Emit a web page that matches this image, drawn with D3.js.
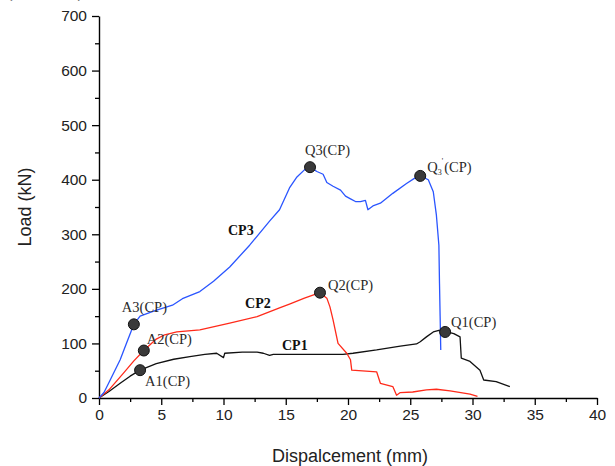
<!DOCTYPE html>
<html>
<head>
<meta charset="utf-8">
<script src="https://cdn.jsdelivr.net/npm/d3@7"></script>
<style>
  body { margin: 0; background: #fff; }
  svg { display: block; }
</style>
</head>
<body>
<svg class="plot"></svg>
<script>
var width = 615, height = 466;

// load-displacement curves [mm, kN]
const cp1 = [[0,0],[0.8,12],[1.7,27],[2.5,40],[3.3,51],[4.6,63],[6.0,71],[7.3,76],[8.5,80],[9.45,82],
  [10.0,74],[10.1,82],[11.5,84],[12.7,84],[13.2,82],[13.7,78],[14.0,80],[15.3,80],[17,80],[19.6,80],
  [20.4,82],[22.3,88],[24.2,95],[25.5,99],[25.8,103],[26.3,112],[26.85,121],[27.3,124],[27.8,122],
  [28.5,118],[29.0,112],[29.1,73],[29.8,67],[30.6,51],[30.9,33],[31.9,30],[33.0,21]];

const cp2 = [[0,0],[0.8,15],[1.95,45],[2.8,68],[3.6,87],[4.6,108],[5.2,115],[6.25,121],[8.1,125],
  [10.5,137],[12.7,149],[14.5,165],[15.3,172],[16.5,183],[17.35,190],[17.75,193],[18.3,183],[18.55,167],
  [18.8,143],[19.2,100],[19.9,82],[20.2,70],[20.3,51],[22.3,48],[22.6,27],[23.6,21],[23.9,5],[24.2,10],
  [25.2,11],[26.3,15],[27.1,16],[28.2,13],[29.8,7],[30.4,3]];

const cp3 = [[0,0],[0.4,10],[0.9,33],[1.7,70],[2.2,100],[2.8,135],[3.3,150],[4.5,160],[5.9,170],
  [6.7,182],[8.1,195],[9.2,214],[10.5,240],[12.1,280],[13.7,324],[14.5,345],[15.3,385],[15.9,405],
  [16.5,418],[16.95,423],[17.5,415],[18.0,410],[18.3,395],[18.8,388],[19.4,381],[19.8,370],[20.2,365],
  [20.6,360],[21,360],[21.4,362],[21.6,345],[22.0,352],[22.6,357],[23.6,375],[24.7,393],[25.3,402],
  [25.8,407],[26.45,400],[26.85,378],[27.1,335],[27.3,280],[27.35,210],[27.4,150],[27.45,88]];

const markers = [[3.3,51],[3.6,87],[2.8,135],[17.75,193],[16.95,423],[25.8,407],[27.8,121]];
const markerLabels = ["A1(CP)","A2(CP)","A3(CP)","Q2(CP)","Q3(CP)","Q3'(CP)","Q1(CP)"];
const curveLabels = [["CP1",14.7,88],["CP2",11.73,165],["CP3",10.36,299]];

const xTicks = [0,5,10,15,20,25,30,35,40];
const yTicks = [0,100,200,300,400,500,600,700];

const svg = d3.select("svg.plot").attr("width", width).attr("height", height);

const x = d3.scaleLinear().domain([0, 40]).range([99, 597]);
const y = d3.scaleLinear().domain([0, 700]).range([398, 16]);

// caption cut off at the top edge, only its lower edge shows
svg.append("text").attr("x", 2).attr("y", -2)
  .style("font-family", "Liberation Sans, Arial, sans-serif").style("font-size", "15px")
  .style("fill", "#777").text("a)   Load-displacement curves");

// minor ticks
svg.append("g").attr("transform", "translate(0,398)")
  .call(d3.axisBottom(x).tickValues(d3.range(2.5, 40, 5)).tickSize(4).tickFormat(""))
  .call(g => g.select(".domain").remove())
  .selectAll("line").attr("stroke-width", 1.3);
svg.append("g").attr("transform", "translate(99,0)")
  .call(d3.axisLeft(y).tickValues(d3.range(50, 700, 100)).tickSize(4).tickFormat(""))
  .call(g => g.select(".domain").remove())
  .selectAll("line").attr("stroke-width", 1.3);

const xAxis = svg.append("g").attr("transform", "translate(0,398)")
  .call(d3.axisBottom(x).tickValues(xTicks).tickSize(7).tickSizeOuter(0).tickPadding(4));
const yAxis = svg.append("g").attr("transform", "translate(99,0)")
  .call(d3.axisLeft(y).tickValues(yTicks).tickSize(7).tickSizeOuter(0).tickPadding(5));

[xAxis, yAxis].forEach(function(a) {
  a.select(".domain").attr("stroke-width", 1.4);
  a.selectAll(".tick line").attr("stroke-width", 1.3);
  a.selectAll(".tick text")
    .style("font-family", "Liberation Sans, Arial, sans-serif")
    .style("font-size", "15.5px")
    .attr("fill", "#222");
});

svg.append("text")
  .attr("x", 350).attr("y", 462)
  .attr("text-anchor", "middle")
  .style("font-family", "Liberation Sans, Arial, sans-serif").style("font-size", "18px")
  .attr("fill", "#222")
  .text("Dispalcement (mm)");

svg.append("text")
  .attr("transform", "translate(31,207) rotate(-90)")
  .attr("text-anchor", "middle")
  .style("font-family", "Liberation Sans, Arial, sans-serif").style("font-size", "18px")
  .attr("fill", "#222")
  .text("Load (kN)");

const line = d3.line().x(d => x(d[0])).y(d => y(d[1]));

const series = [[cp1, "#111111"], [cp2, "#ff2a1a"], [cp3, "#2a55ff"]];
svg.append("g").selectAll("path")
  .data(series)
  .join("path")
    .attr("d", d => line(d[0]))
    .style("fill", "none")
    .style("stroke", d => d[1])
    .style("stroke-width", 1.3)
    .style("stroke-linejoin", "round");

svg.append("g").selectAll("circle")
  .data(markers)
  .join("circle")
    .attr("cx", d => x(d[0]))
    .attr("cy", d => y(d[1]))
    .attr("r", 5.5)
    .style("fill", "#3a3a3a")
    .style("stroke", "#111")
    .style("stroke-width", 1);

// label offsets from each marker, in pixels
const offsets = [[5,16],[3,-7],[-12,-12],[8,-3],[-5,-12],[7,-4],[6,-5]];
const serif = "Liberation Serif, Times New Roman, serif";

const lbl = svg.append("g")
  .style("font-family", serif).style("font-size", "14.5px").attr("fill", "#2a2a2a");

markers.forEach(function(m, i) {
  const t = lbl.append("text")
    .attr("x", x(m[0]) + offsets[i][0])
    .attr("y", y(m[1]) + offsets[i][1]);
  const s = markerLabels[i];
  if (s === "Q3'(CP)") {
    t.append("tspan").text("Q");
    t.append("tspan").attr("dy", 3).style("font-size", "8px").text("3");
    t.append("tspan").attr("dy", -11).style("font-size", "8px").text("'");
    t.append("tspan").attr("dx", 1).attr("dy", 8).text("(CP)");
  } else {
    t.text(s);
  }
});

svg.append("g").selectAll("text")
  .data(curveLabels)
  .join("text")
    .attr("x", d => x(d[1]))
    .attr("y", d => y(d[2]))
    .style("font-family", serif).style("font-size", "14px").style("font-weight", "bold")
    .attr("fill", "#111")
    .text(d => d[0]);
</script>
</body>
</html>
